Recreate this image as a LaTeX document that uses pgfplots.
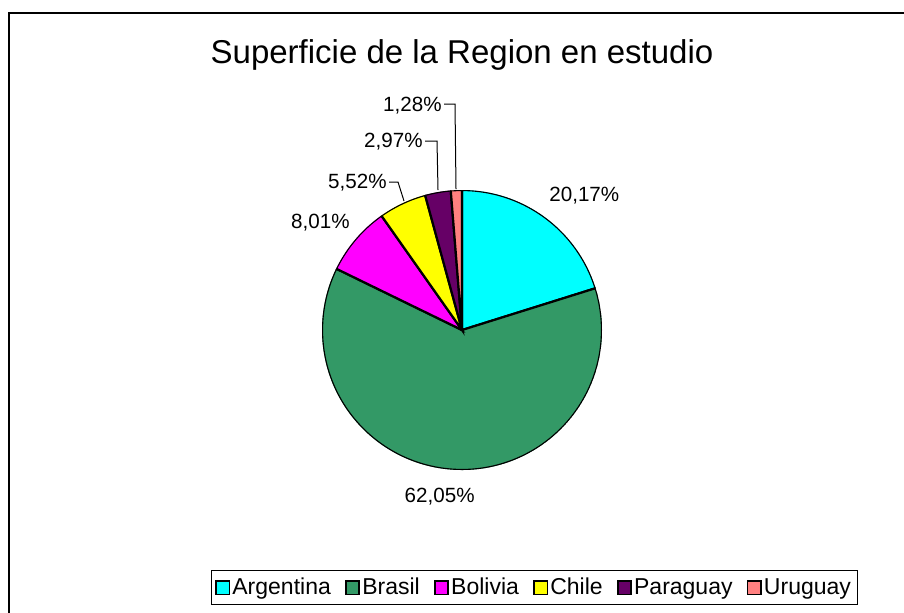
\documentclass[border=0pt]{standalone}
\usepackage{pgfplots}
\pgfplotsset{compat=1.18}
\usepgfplotslibrary{polar}
\usepackage{fontspec}
\setmainfont{Liberation Sans}

\definecolor{cArg}{RGB}{0,255,255}
\definecolor{cBra}{RGB}{51,153,102}
\definecolor{cBol}{RGB}{255,0,255}
\definecolor{cChi}{RGB}{255,255,0}
\definecolor{cPar}{RGB}{102,0,102}
\definecolor{cUru}{RGB}{255,128,128}

% shares (percent)
\def\pArg{20.17}
\def\pBra{62.05}
\def\pBol{8.01}
\def\pChi{5.52}
\def\pPar{2.97}
\def\pUru{1.28}

\begin{document}
\begin{tikzpicture}[x=0.5pt,y=-0.5pt]
\pgfmathsetmacro\aA{90}
\pgfmathsetmacro\aB{\aA-3.6*\pArg}
\pgfmathsetmacro\aC{\aB-3.6*\pBra}
\pgfmathsetmacro\aD{\aC-3.6*\pBol}
\pgfmathsetmacro\aE{\aD-3.6*\pChi}
\pgfmathsetmacro\aF{\aE-3.6*\pPar}
\pgfmathsetmacro\aG{\aF-3.6*\pUru}
\draw[line width=1.2pt] (9,13) rectangle (930,640);
\node[font=\fontsize{16.5}{18}\selectfont, anchor=base, inner sep=0pt] at (462,63) {Superficie de la Region en estudio};

\begin{polaraxis}[
  at={(231pt,-165pt)}, anchor=center,
  scale only axis, width=140pt, height=140pt,
  hide axis, ymin=0, ymax=1,
  legend columns=-1,
  legend image code/.code={\draw[#1, draw=black, line width=0.9pt] (0pt,-3.4pt) rectangle (6.8pt,3.4pt);},
  legend style={at={(0.757,-0.42)}, anchor=center, draw=black, line width=0.4pt,
    font=\fontsize{11.5}{13}\selectfont, inner xsep=2pt, inner ysep=2.5pt,
    nodes={inner sep=1pt},
    /tikz/every even column/.append style={column sep=6pt}},
]
\addplot[fill=cArg, draw=black, line width=1.1pt, domain=\aB:\aA, samples=40] {1} -- (axis cs:0,0) -- cycle;
\addlegendentry{Argentina}
\addplot[fill=cBra, draw=black, line width=1.1pt, domain=\aC:\aB, samples=120] {1} -- (axis cs:0,0) -- cycle;
\addlegendentry{Brasil}
\addplot[fill=cBol, draw=black, line width=1.1pt, domain=\aD:\aC, samples=20] {1} -- (axis cs:0,0) -- cycle;
\addlegendentry{Bolivia}
\addplot[fill=cChi, draw=black, line width=1.1pt, domain=\aE:\aD, samples=15] {1} -- (axis cs:0,0) -- cycle;
\addlegendentry{Chile}
\addplot[fill=cPar, draw=black, line width=1.1pt, domain=\aF:\aE, samples=10] {1} -- (axis cs:0,0) -- cycle;
\addlegendentry{Paraguay}
\addplot[fill=cUru, draw=black, line width=1.1pt, domain=\aG:\aF, samples=6] {1} -- (axis cs:0,0) -- cycle;
\addlegendentry{Uruguay}
\end{polaraxis}

\begin{scope}[font=\fontsize{10.3}{12}\selectfont]
\node[anchor=base west, inner sep=0pt] at (549,201) {20,17\%};
\node[anchor=base east, inner sep=0pt] at (475,502) {62,05\%};
\node[anchor=base east, inner sep=0pt] at (350,228) {8,01\%};
\node[anchor=base east, inner sep=0pt] at (387,188) {5,52\%};
\node[anchor=base east, inner sep=0pt] at (423,147) {2,97\%};
\node[anchor=base east, inner sep=0pt] at (442,111) {1,28\%};
\end{scope}
\draw[line width=0.5pt] (389,182) -- (398,182) -- (404,201);
\draw[line width=0.5pt] (425,141) -- (437,141) -- (438,190);
\draw[line width=0.5pt] (444,104) -- (455,104) -- (456,189);
\pgfresetboundingbox
\useasboundingbox (0,0) rectangle (904,612);
\end{tikzpicture}
\end{document}
